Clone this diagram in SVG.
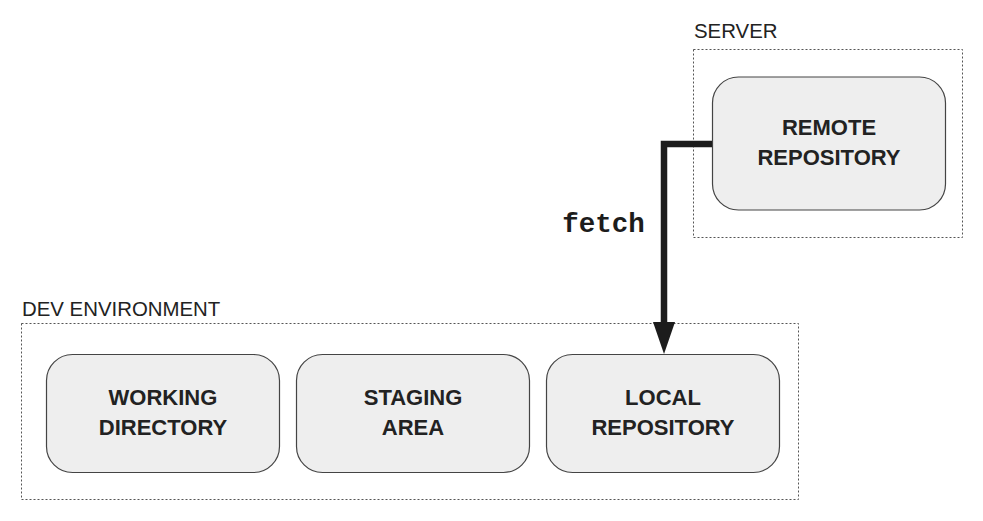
<svg xmlns="http://www.w3.org/2000/svg" width="983" height="521" viewBox="0 0 983 521">
  <defs>
    <style>
      .bg { fill: #ffffff; }
      .container { fill: none; stroke: #555555; stroke-width: 1; stroke-dasharray: 2 2; }
      .group-label { font-family: "Liberation Sans", Arial, sans-serif; font-size: 20.4px; fill: #222222; }
      .node rect { fill: #eeeeee; stroke: #444444; stroke-width: 1.2; }
      .node text { font-family: "Liberation Sans", Arial, sans-serif; font-size: 22px; font-weight: bold; fill: #222222; text-anchor: middle; }
      .edge { fill: none; stroke: #1c1c1c; stroke-width: 6.5; stroke-linejoin: miter; }
      .edge-label { font-family: "Liberation Mono", "Courier New", monospace; font-size: 27.5px; font-weight: bold; fill: #1c1c1c; text-anchor: middle; }
    </style>
    <marker id="arrow" markerUnits="userSpaceOnUse" markerWidth="34" markerHeight="24" refX="0" refY="12" orient="auto" viewBox="0 0 34 24">
      <path d="M0,1 L32,12 L0,23 Z" fill="#1c1c1c"/>
    </marker>
  </defs>

  <rect class="bg" x="0" y="0" width="983" height="521"/>

  <!-- containers -->
  <g id="server">
    <rect class="container" x="693.5" y="49.5" width="269" height="188"/>
    <text class="group-label" x="694" y="38">SERVER</text>
  </g>
  <g id="dev-environment">
    <rect class="container" x="21.5" y="323.5" width="777" height="176"/>
    <text class="group-label" x="22" y="316">DEV ENVIRONMENT</text>
  </g>

  <!-- nodes -->
  <g id="remote-repository" class="node">
    <rect x="712.5" y="77" width="233" height="133" rx="26" ry="26"/>
    <text x="829" y="135">REMOTE</text>
    <text x="829" y="165">REPOSITORY</text>
  </g>
  <g id="working-directory" class="node">
    <rect x="46.5" y="354.5" width="233" height="118" rx="26" ry="26"/>
    <text x="163" y="405">WORKING</text>
    <text x="163" y="435">DIRECTORY</text>
  </g>
  <g id="staging-area" class="node">
    <rect x="296.5" y="354.5" width="233" height="118" rx="26" ry="26"/>
    <text x="413" y="405">STAGING</text>
    <text x="413" y="435">AREA</text>
  </g>
  <g id="local-repository" class="node">
    <rect x="546.5" y="354.5" width="233" height="118" rx="26" ry="26"/>
    <text x="663" y="405">LOCAL</text>
    <text x="663" y="435">REPOSITORY</text>
  </g>

  <!-- connectors -->
  <g id="connectors">
    <path class="edge" d="M712,144 H664 V322" marker-end="url(#arrow)"/>
    <text class="edge-label" x="603.5" y="232">fetch</text>
  </g>
</svg>
